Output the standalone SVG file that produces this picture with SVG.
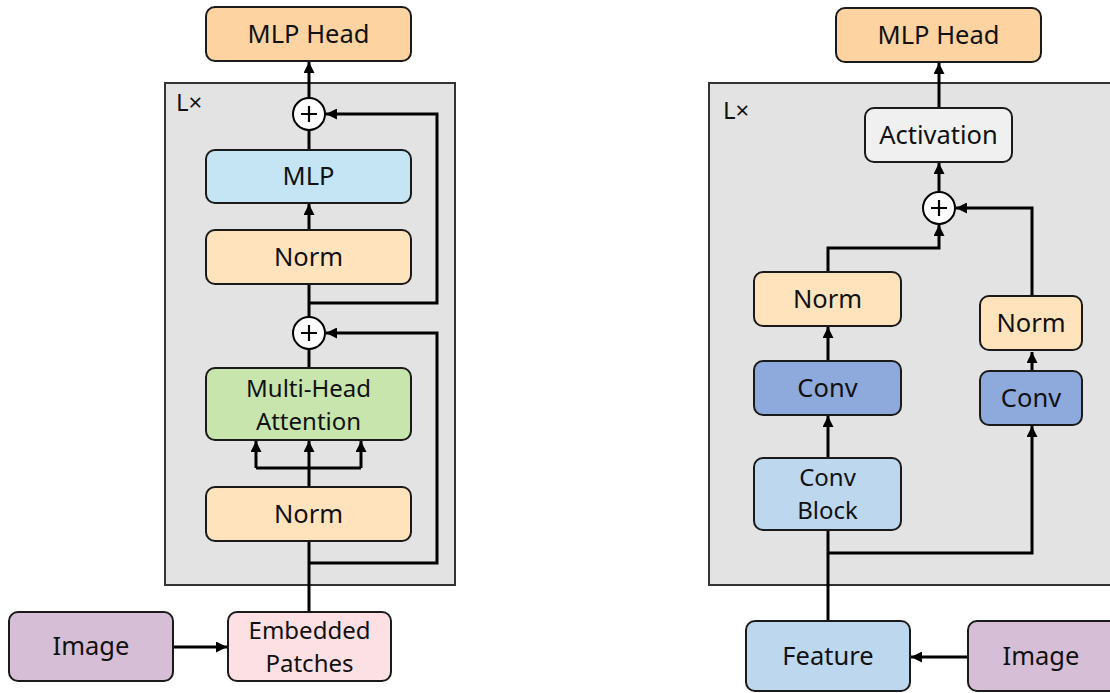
<svg xmlns="http://www.w3.org/2000/svg" width="1110" height="693" viewBox="0 0 1110 693">
  <style>
    .box { stroke: #1a1a1a; stroke-width: 2; }
    .frame { fill: #e3e3e3; stroke: #333; stroke-width: 2; }
    .lbl { font-family: "Noto Sans", "Open Sans", sans-serif; font-size: 25.5px; fill: #111; text-anchor: middle; }
    .lbl2 { font-size: 24px; }
    .tag { font-family: "Noto Sans", "Open Sans", sans-serif; font-size: 24px; fill: #111; }
    .wire { fill: none; stroke: #000; stroke-width: 3; }
    .arr { marker-end: url(#head); }
    .sum { fill: #fff; stroke: #000; stroke-width: 2; }
    .plus { stroke: #000; stroke-width: 2.2; }
  </style>
  <defs>
    <marker id="head" markerUnits="userSpaceOnUse" markerWidth="11" markerHeight="11" refX="10" refY="5" orient="auto" viewBox="0 0 10 10">
      <path d="M0,0 L10,5 L0,10 Z" fill="#000"/>
    </marker>
  </defs>

  <!-- Left: transformer encoder -->
  <g id="left-frame">
    <rect class="frame" x="165" y="83" width="290" height="502"/>
    <text class="tag" x="176" y="111">L×</text>
  </g>

  <!-- Right: convolutional stack -->
  <g id="right-frame">
    <rect class="frame" x="709" y="83" width="410" height="502"/>
    <text class="tag" x="723" y="119">L×</text>
  </g>

  <g id="connectors">
    <!-- left column -->
    <path class="wire arr" d="M309,98 V62"/>
    <path class="wire" d="M309,150 V130"/>
    <path class="wire arr" d="M309,230 V204"/>
    <path class="wire" d="M309,317 V284"/>
    <path class="wire arr" d="M309,303 H437 V114 H326"/>
    <path class="wire" d="M309,368 V349"/>
    <path class="wire arr" d="M309,563 H437 V333 H326"/>
    <path class="wire" d="M309,487 V468 M256,468 H361"/>
    <path class="wire arr" d="M256,468 V441"/>
    <path class="wire arr" d="M309,468 V441"/>
    <path class="wire arr" d="M361,468 V441"/>
    <path class="wire" d="M309,612 V541"/>
    <path class="wire arr" d="M173,647 H227"/>
    <!-- right column -->
    <path class="wire arr" d="M939,108 V63"/>
    <path class="wire arr" d="M939,192 V163"/>
    <path class="wire arr" d="M828,272 V248 H939 V225"/>
    <path class="wire arr" d="M1032,296 V208 H956"/>
    <path class="wire arr" d="M828,361 V327"/>
    <path class="wire arr" d="M1032,371 V352"/>
    <path class="wire arr" d="M828,458 V416"/>
    <path class="wire" d="M828,621 V530"/>
    <path class="wire arr" d="M828,553 H1032 V426"/>
    <path class="wire arr" d="M968,657 H911"/>
  </g>

  <g id="l-mlp-head">
    <rect class="box" x="206" y="7" width="205" height="54" rx="9" fill="#fcd3a1"/>
    <text class="lbl" x="308.5" y="43">MLP Head</text>
  </g>
  <g id="l-add-2">
    <circle class="sum" cx="309" cy="114" r="16"/>
    <path class="plus" d="M301,114 H317 M309,106 V122"/>
  </g>
  <g id="l-mlp">
    <rect class="box" x="206" y="150" width="205" height="53" rx="9" fill="#c5e5f5"/>
    <text class="lbl" x="308.5" y="185">MLP</text>
  </g>
  <g id="l-norm-2">
    <rect class="box" x="206" y="230" width="205" height="54" rx="9" fill="#fee3bd"/>
    <text class="lbl" x="308.5" y="266">Norm</text>
  </g>
  <g id="l-add-1">
    <circle class="sum" cx="309" cy="333" r="16"/>
    <path class="plus" d="M301,333 H317 M309,325 V341"/>
  </g>
  <g id="l-attention">
    <rect class="box" x="206" y="368" width="205" height="72" rx="9" fill="#c7e5ad"/>
    <text class="lbl lbl2" x="308.5" y="397">Multi-Head</text>
    <text class="lbl lbl2" x="308.5" y="430">Attention</text>
  </g>
  <g id="l-norm-1">
    <rect class="box" x="206" y="487" width="205" height="54" rx="9" fill="#fee3bd"/>
    <text class="lbl" x="308.5" y="523">Norm</text>
  </g>
  <g id="l-embedded">
    <rect class="box" x="228" y="612" width="163" height="69" rx="9" fill="#fce0e3"/>
    <text class="lbl lbl2" x="309.5" y="639">Embedded</text>
    <text class="lbl lbl2" x="309.5" y="672">Patches</text>
  </g>
  <g id="l-image">
    <rect class="box" x="9" y="612" width="164" height="69" rx="9" fill="#d6bfd6"/>
    <text class="lbl" x="91" y="655">Image</text>
  </g>

  <g id="r-mlp-head">
    <rect class="box" x="836" y="8" width="205" height="54" rx="9" fill="#fcd3a1"/>
    <text class="lbl" x="938.5" y="44">MLP Head</text>
  </g>
  <g id="r-activation">
    <rect class="box" x="865" y="108" width="147" height="54" rx="9" fill="#f0f0f0"/>
    <text class="lbl" x="938.5" y="144">Activation</text>
  </g>
  <g id="r-add">
    <circle class="sum" cx="939" cy="208" r="16"/>
    <path class="plus" d="M931,208 H947 M939,200 V216"/>
  </g>
  <g id="r-norm-a">
    <rect class="box" x="754" y="272" width="147" height="54" rx="9" fill="#fee3bd"/>
    <text class="lbl" x="827.5" y="308">Norm</text>
  </g>
  <g id="r-conv-a">
    <rect class="box" x="754" y="361" width="147" height="54" rx="9" fill="#8ea9db"/>
    <text class="lbl" x="827.5" y="397">Conv</text>
  </g>
  <g id="r-conv-block">
    <rect class="box" x="754" y="458" width="147" height="72" rx="9" fill="#bdd7ee"/>
    <text class="lbl lbl2" x="827.5" y="486">Conv</text>
    <text class="lbl lbl2" x="827.5" y="519">Block</text>
  </g>
  <g id="r-norm-b">
    <rect class="box" x="980" y="296" width="102" height="54" rx="9" fill="#fee3bd"/>
    <text class="lbl" x="1031" y="332">Norm</text>
  </g>
  <g id="r-conv-b">
    <rect class="box" x="980" y="371" width="102" height="54" rx="9" fill="#8ea9db"/>
    <text class="lbl" x="1031" y="407">Conv</text>
  </g>
  <g id="r-feature">
    <rect class="box" x="746" y="621" width="164" height="70" rx="9" fill="#bdd7ee"/>
    <text class="lbl" x="828" y="665">Feature</text>
  </g>
  <g id="r-image">
    <rect class="box" x="968" y="621" width="160" height="70" rx="9" fill="#d6bfd6"/>
    <text class="lbl" x="1041" y="665">Image</text>
  </g>
</svg>
